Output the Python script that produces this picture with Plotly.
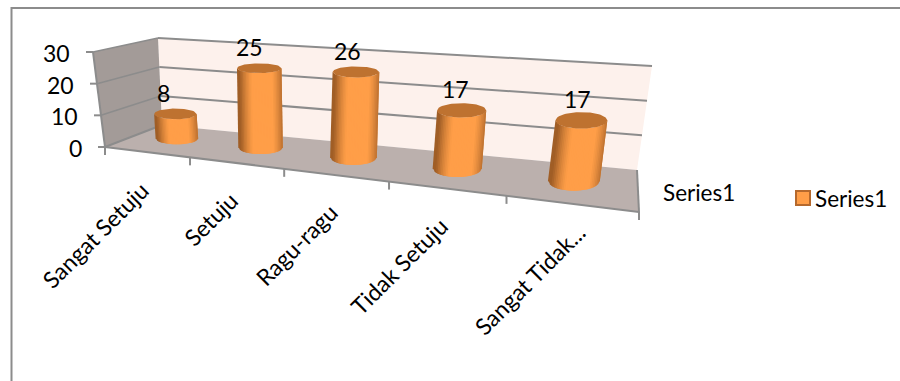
import plotly.graph_objects as go

# Survey responses and axis labels
categories = ["Sangat Setuju", "Setuju", "Ragu-ragu", "Tidak Setuju", "Sangat Tidak..."]
values = [8, 25, 26, 17, 17]
value_ticks = [0, 10, 20, 30]
series_name = "Series1"

W, H = 900, 381
V_MAX = 30.0
N_CAT = len(categories)
FONT = "Lato, Carlito, sans-serif"
TEXT = "#000000"
AXIS = "#8C8C8C"

# Corners of the pseudo-3D box on the page: (front/back, left/right, bottom/top)
BOX = {
    ("f", "l", "b"): (105, 147), ("f", "r", "b"): (639, 212),
    ("k", "l", "b"): (162, 125), ("k", "r", "b"): (637, 170),
    ("f", "l", "t"): (93, 52),   ("f", "r", "t"): (657, 96),
    ("k", "l", "t"): (158, 38),  ("k", "r", "t"): (652, 66),
}
PERSPECTIVE = 1.32


def along(u):
    """Category position (0..N_CAT) to a foreshortened 0..1 fraction of the width."""
    t = u / N_CAT
    return t / (t + PERSPECTIVE * (1 - t))


def project(s, d, v):
    """Trilinear map: width fraction s, depth d (0 front, 1 back), value v."""
    h = v / V_MAX
    x = y = 0.0
    for dk, dw in (("f", 1 - d), ("k", d)):
        for sk, sw in (("l", 1 - s), ("r", s)):
            for vk, vw in (("b", 1 - h), ("t", h)):
                px, py = BOX[(dk, sk, vk)]
                x += dw * sw * vw * px
                y += dw * sw * vw * py
    return x, y


def mix(c1, c2, t):
    return "#%02X%02X%02X" % tuple(round(a + (b - a) * t) for a, b in zip(c1, c2))


fig = go.Figure()


def polygon(points, fill):
    xs, ys = zip(*points)
    fig.add_trace(go.Scatter(
        x=list(xs) + [xs[0]], y=list(ys) + [ys[0]], mode="lines", fill="toself",
        fillcolor=fill, line=dict(width=0), hoverinfo="skip", showlegend=False))


def segment(p, q, color=AXIS, width=2):
    fig.add_trace(go.Scatter(
        x=[p[0], q[0]], y=[p[1], q[1]], mode="lines",
        line=dict(color=color, width=width), hoverinfo="skip", showlegend=False))


# Walls and floor
polygon([project(0, 1, 0), project(1, 1, 0), project(1, 1, V_MAX), project(0, 1, V_MAX)], "#FDF1EC")
polygon([project(0, 0, 0), project(0, 1, 0), project(0, 1, V_MAX), project(0, 0, V_MAX)], "#A39B98")
polygon([project(0, 0, 0), project(1, 0, 0), project(1, 1, 0), project(0, 1, 0)], "#BBB0AD")

# Gridlines across both walls, with value ticks on the front edge
for v in value_ticks:
    if v > 0:
        segment(project(0, 1, v), project(1, 1, v))
    segment(project(0, 0, v), project(0, 1, v), width=1.5 if v else 2)
    left = project(0, 0, v)
    segment((left[0] - 7, left[1]), left)
    fig.add_annotation(x=left[0] - 21, y=left[1] + 1, text=str(v), showarrow=False, xanchor="right",
                       yanchor="middle", font=dict(family=FONT, size=23, color=TEXT))

# Box edges and category ticks
segment(project(0, 0, 0), project(0, 0, V_MAX))
segment(project(0, 0, 0), project(1, 0, 0))
segment(project(1, 0, 0), project(1, 1, 0))
for i in range(N_CAT + 1):
    p = project(along(i), 0, 0)
    segment(p, (p[0], p[1] + 8))

# Cylinders: the body is a fan of overlapping strips around the front half
DARK = (160, 94, 38)
BRIGHT = (255, 158, 72)
CAP = "#BE7230"
DEPTH = 0.58
STRIPS = 30
for i, val in enumerate(values):
    s = along(i + 0.5)
    half_w = 534 * (0.039 + 0.011 * s)
    base = project(s, DEPTH, 0)
    top = project(s, DEPTH, val)
    rim_b = abs(project(s, DEPTH + 0.25, 0)[1] - base[1])
    rim_t = abs(project(s, DEPTH + 0.25, val)[1] - top[1])

    def rim(centre, hh, t):
        return centre[0] + half_w * t, centre[1] + hh * (1 - t * t) ** 0.5

    for k in range(STRIPS):
        t0 = -1 + 2 * k / STRIPS
        t1 = min(1.0, t0 + 4 / STRIPS)
        mid = t0 + 1 / STRIPS
        shade = max(0.0, 1 - (mid - 0.12) ** 2)
        color = mix(DARK, BRIGHT, min(1.0, shade * 1.25))
        polygon([rim(base, rim_b, t0), rim(base, rim_b, t1), rim(top, rim_t, t1), rim(top, rim_t, t0)], color)

    steps = [-1 + j / 15 for j in range(31)]
    ring = [rim(top, rim_t, t) for t in steps]
    ring += [(x, 2 * top[1] - y) for x, y in reversed(ring)]
    polygon(ring, CAP)
    fig.add_annotation(x=top[0] - 12 + 2 * i, y=top[1] - 21, text=str(val), showarrow=False,
                       xanchor="center", yanchor="middle", font=dict(family=FONT, size=23, color=TEXT))

# Rotated category labels; the truncated last one sits further along the axis
for i, label in enumerate(categories):
    p = project(along(i + 0.5), 0, 0)
    last = i == N_CAT - 1
    fig.add_annotation(x=p[0] + (23 if last else 10), y=p[1] + (11 if last else 21), text=label,
                       textangle=-45, showarrow=False, xanchor="right", yanchor="top",
                       font=dict(family=FONT, size=23, color=TEXT))

# Depth-axis label and legend
fig.add_annotation(x=661, y=192, text=series_name, showarrow=False, xanchor="left", yanchor="middle",
                   font=dict(family=FONT, size=22.5, color=TEXT))
fig.add_annotation(x=813, y=198, text=series_name, showarrow=False, xanchor="left", yanchor="middle",
                   font=dict(family=FONT, size=22.5, color=TEXT))
fig.add_shape(type="rect", x0=796, x1=810, y0=191, y1=205, fillcolor="#FF9E48",
              line=dict(color="#B5692D", width=2))

# Chart frame, open past the right edge of the page
fig.add_shape(type="rect", x0=11.5, x1=920, y0=8, y1=400, line=dict(color="#8C8C8C", width=2))

fig.update_layout(
    width=W, height=H, margin=dict(l=0, r=0, t=0, b=0), autosize=False,
    paper_bgcolor="white", plot_bgcolor="white", showlegend=False,
    xaxis=dict(range=[0, W], visible=False, fixedrange=True),
    yaxis=dict(range=[H, 0], visible=False, fixedrange=True),
)
fig.write_html("out.html", config=dict(displayModeBar=False))
